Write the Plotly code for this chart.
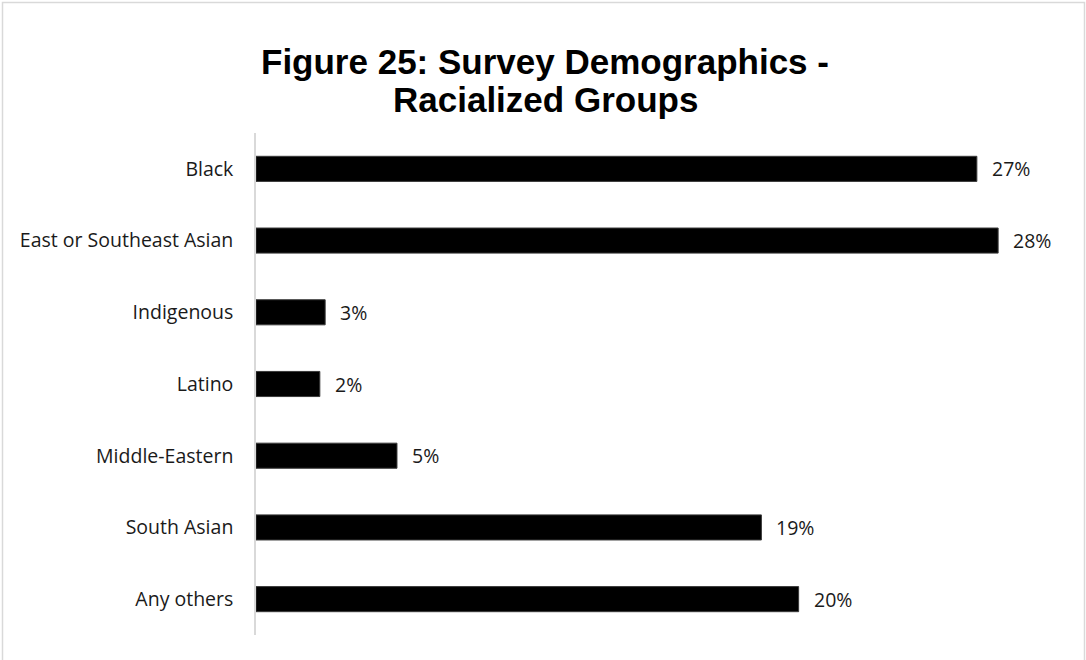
import plotly.graph_objects as go

categories = ["Black", "East or Southeast Asian", "Indigenous", "Latino",
              "Middle-Eastern", "South Asian", "Any others"]
values = [27.1, 27.9, 2.6, 2.4, 5.3, 19.0, 20.4]
labels = ["27%", "28%", "3%", "2%", "5%", "19%", "20%"]
title_lines = ["Figure 25: Survey Demographics -", "Racialized Groups"]

W, H = 1086, 660
ml, mr, mt, mb = 256, 32, 133, 25
pw = W - ml - mr
ph = H - mt - mb
LABEL_FONT = dict(family="Open Sans, Noto Sans, sans-serif", size=19.5, color="#1a1a1a")

fig = go.Figure()
fig.add_trace(go.Bar(
    x=values, y=categories, orientation="h",
    marker=dict(color="black", line=dict(color="#3a3a3a", width=1)),
    width=0.35, hoverinfo="skip",
))

for c, v, t in zip(categories, values, labels):
    fig.add_annotation(x=v, y=c, text=t, showarrow=False, xanchor="left",
                       xshift=13, font=LABEL_FONT)

# title lines
for i, line in enumerate(title_lines):
    fig.add_annotation(xref="paper", yref="paper",
                       x=(545 - ml) / pw, y=1 + (mt - (62 + 37 * i)) / ph,
                       xanchor="center", yanchor="middle", showarrow=False,
                       text="<b>" + line + "</b>",
                       font=dict(family="Liberation Sans, Arial, sans-serif", size=35, color="black"))

# outer border
x0 = (2.5 - ml) / pw
x1 = (W - 1.5 - ml) / pw
y0 = -(mb + 20) / ph
y1 = 1 + (mt - 2.5) / ph
fig.add_shape(type="rect", xref="paper", yref="paper", x0=x0, x1=x1, y0=y0, y1=y1,
              line=dict(color="#d9d9d9", width=1.5), layer="below")

fig.update_layout(
    width=W, height=H,
    margin=dict(l=ml, r=mr, t=mt, b=mb),
    paper_bgcolor="white", plot_bgcolor="white",
    showlegend=False,
    xaxis=dict(range=[0, 30], showgrid=False, zeroline=False, showticklabels=False,
               showline=False, fixedrange=True),
    yaxis=dict(categoryorder="array", categoryarray=categories[::-1],
               showgrid=False, zeroline=False, showline=True, linecolor="#d9d9d9",
               linewidth=1.5, ticks="", ticklabelstandoff=17,
               tickfont=LABEL_FONT),
)

fig.write_html("out.html", config={"displayModeBar": False},
               post_script="document.body.style.margin='0';")
